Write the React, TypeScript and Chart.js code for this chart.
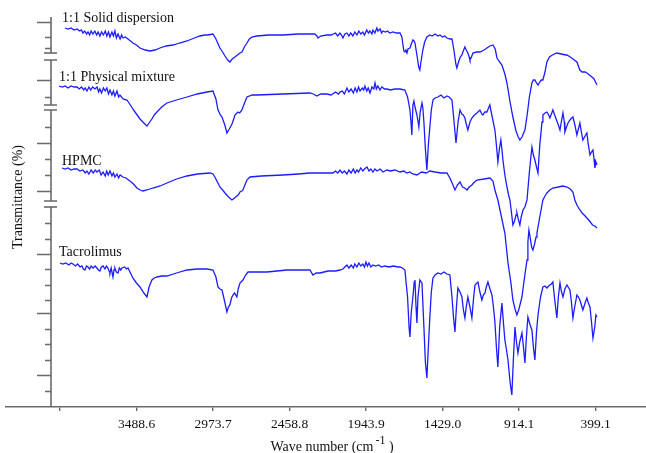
import { useEffect, useRef } from "react";
import { Chart, registerables } from "chart.js";

Chart.register(...registerables);

// Wave number axis (cm-1), plotted high to low
const xTickValues = [4003.5, 3488.6, 2973.7, 2458.8, 1943.9, 1429.0, 914.1, 399.1];
const xTickLabels = ["", "3488.6", "2973.7", "2458.8", "1943.9", "1429.0", "914.1", "399.1"];
const xMin = 60;
const xMax = 4368;
const yAxisAt = 4065;

// Offset transmittance scale shared by the stacked spectra
const yMin = 0;
const yMax = 400;
const yAxisSegments: [number, number][] = [
  [354, 390],
  [302, 347],
  [206, 297],
  [0, 200],
];
const yMajorTicks = [385, 327, 264, 216, 153, 94, 32];
const yMinorTicks = [370, 359, 310, 280, 248, 232, 184, 168, 138, 122, 107, 78, 63, 47, 16];

const seriesNames = ["1:1 Solid dispersion", "1:1 Physical mixture", "HPMC", "Tacrolimus"];
// [wave number, offset transmittance] where each name is written
const nameAnchors: [number, number][] = [
  [3991, 385],
  [4011, 326],
  [3991, 242],
  [4011, 151],
];

const solidDispersion: [number, number][] = [
  [3971, 379], [3950, 378], [3930, 379], [3910, 377], [3890, 378], [3872, 376], [3860, 377], [3850, 374],
  [3838, 376], [3826, 373], [3816, 375], [3805, 372], [3795, 376], [3783, 373], [3770, 376], [3758, 372],
  [3748, 375], [3736, 371], [3725, 375], [3712, 372], [3700, 376], [3689, 371], [3678, 375], [3668, 370],
  [3655, 375], [3645, 371], [3635, 376], [3625, 369], [3614, 373], [3600, 368], [3590, 372], [3581, 369],
  [3565, 370], [3547, 368], [3530, 366], [3514, 364], [3490, 362], [3466, 359], [3430, 357], [3399, 356],
  [3365, 357], [3332, 359], [3290, 361], [3244, 362], [3200, 364], [3150, 366], [3100, 369], [3063, 371],
  [3030, 372], [3009, 372], [2975, 373], [2955, 368], [2940, 363], [2928, 359], [2910, 355], [2894, 351],
  [2875, 347], [2861, 345], [2845, 348], [2827, 350], [2810, 352], [2793, 354], [2780, 355], [2773, 357],
  [2760, 361], [2746, 364], [2730, 368], [2713, 370], [2679, 371], [2600, 372], [2504, 372], [2400, 373],
  [2289, 373], [2275, 371], [2268, 369], [2250, 371], [2208, 372], [2180, 372], [2150, 374], [2135, 371],
  [2120, 374], [2110, 372], [2100, 369], [2087, 373], [2073, 374], [2060, 371], [2048, 374], [2033, 371],
  [2020, 375], [2006, 372], [1993, 376], [1980, 373], [1966, 375], [1955, 372], [1940, 377], [1928, 374],
  [1918, 376], [1905, 373], [1898, 377], [1885, 374], [1872, 379], [1864, 376], [1850, 378], [1840, 374],
  [1831, 376], [1815, 375], [1800, 376], [1785, 374], [1763, 375], [1740, 374], [1716, 374], [1703, 370],
  [1696, 362], [1690, 356], [1683, 355], [1676, 357], [1669, 354], [1662, 358], [1649, 359], [1640, 363],
  [1629, 367], [1622, 366], [1615, 364], [1600, 350], [1590, 340], [1582, 337], [1575, 345], [1562, 357],
  [1550, 365], [1535, 370], [1515, 372], [1500, 371], [1480, 373], [1460, 371], [1447, 372], [1430, 370],
  [1415, 371], [1400, 369], [1380, 368], [1366, 368], [1353, 357], [1340, 343], [1333, 339], [1320, 346],
  [1310, 350], [1299, 352], [1290, 356], [1279, 360], [1270, 357], [1259, 354], [1250, 350], [1245, 347],
  [1235, 350], [1225, 354], [1200, 355], [1178, 355], [1150, 357], [1131, 359], [1110, 361], [1090, 362],
  [1075, 358], [1063, 349], [1050, 346], [1030, 342], [1010, 333], [996, 324], [975, 305], [956, 290],
  [935, 276], [920, 270], [909, 267], [895, 270], [875, 277], [860, 292], [845, 310], [828, 324],
  [818, 327], [808, 327], [797, 324], [787, 322], [775, 325], [765, 327], [754, 327], [740, 335],
  [727, 345], [710, 350], [690, 352], [660, 354], [630, 353], [600, 352], [592, 352], [570, 350],
  [552, 348], [525, 345], [505, 337], [490, 335], [470, 335], [458, 334], [440, 332], [424, 330],
  [410, 328], [400, 325], [390, 322],
];

const physicalMixture: [number, number][] = [
  [4011, 321], [3990, 320], [3970, 321], [3950, 319], [3930, 321], [3910, 320], [3890, 320], [3875, 318],
  [3860, 320], [3845, 317], [3835, 319], [3823, 316], [3810, 320], [3798, 317], [3785, 320], [3769, 318],
  [3755, 320], [3745, 315], [3736, 318], [3725, 314], [3712, 319], [3700, 316], [3689, 319], [3678, 313],
  [3668, 317], [3655, 312], [3645, 316], [3635, 311], [3621, 316], [3610, 310], [3601, 312], [3580, 308],
  [3554, 307], [3535, 303], [3514, 298], [3490, 293], [3466, 288], [3440, 284], [3419, 281], [3405, 284],
  [3386, 288], [3370, 292], [3352, 295], [3320, 300], [3285, 304], [3220, 307], [3150, 310], [3080, 313],
  [3015, 315], [2975, 316], [2955, 308], [2941, 297], [2925, 292], [2914, 290], [2895, 282], [2881, 274],
  [2865, 278], [2847, 283], [2835, 288], [2827, 292], [2807, 295], [2795, 294], [2780, 297], [2765, 303],
  [2746, 310], [2710, 312], [2679, 312], [2504, 313], [2322, 314], [2300, 313], [2275, 311], [2250, 313],
  [2208, 313], [2180, 312], [2150, 315], [2130, 313], [2120, 315], [2105, 316], [2090, 313], [2073, 319],
  [2060, 315], [2045, 318], [2030, 314], [2018, 319], [2006, 315], [1995, 320], [1985, 316], [1970, 319],
  [1960, 317], [1952, 321], [1940, 316], [1930, 319], [1918, 314], [1905, 320], [1892, 318], [1884, 324],
  [1875, 318], [1865, 321], [1851, 317], [1838, 320], [1820, 318], [1804, 318], [1780, 317], [1750, 318],
  [1716, 318], [1683, 317], [1665, 310], [1649, 297], [1642, 285], [1636, 272], [1629, 302], [1622, 306],
  [1615, 300], [1602, 292], [1595, 286], [1589, 280], [1580, 295], [1568, 304], [1562, 299], [1555, 285],
  [1545, 258], [1535, 237], [1525, 262], [1515, 280], [1505, 297], [1494, 307], [1480, 309], [1461, 310],
  [1440, 312], [1420, 309], [1400, 311], [1385, 310], [1366, 307], [1355, 290], [1339, 264], [1325, 285],
  [1312, 297], [1300, 293], [1290, 292], [1279, 289], [1270, 283], [1259, 277], [1245, 285], [1232, 289],
  [1215, 292], [1198, 294], [1178, 297], [1165, 293], [1158, 292], [1145, 295], [1131, 295], [1120, 299],
  [1111, 302], [1095, 290], [1077, 277], [1067, 262], [1057, 245], [1047, 258], [1037, 267], [1030, 258],
  [1023, 247], [1010, 232], [996, 220], [985, 212], [976, 207], [966, 195], [956, 182], [945, 186],
  [935, 192], [929, 194], [920, 188], [909, 182], [900, 190], [888, 197], [875, 200], [861, 207],
  [845, 235], [828, 260], [818, 252], [808, 247], [797, 240], [787, 234], [775, 262], [760, 285],
  [754, 292], [740, 294], [727, 295], [715, 292], [707, 289], [697, 293], [687, 297], [665, 288],
  [650, 282], [639, 277], [630, 285], [619, 294], [610, 285], [606, 275], [595, 280], [585, 284],
  [572, 287], [560, 289], [552, 290], [540, 283], [525, 272], [515, 278], [505, 284], [495, 275],
  [485, 267], [470, 271], [458, 274], [448, 262], [437, 252], [427, 255], [417, 257], [410, 248],
  [404, 239], [397, 245], [390, 242],
];

const hpmc: [number, number][] = [
  [3991, 239], [3970, 238], [3950, 239], [3930, 237], [3910, 238], [3890, 238], [3870, 236], [3850, 237],
  [3835, 234], [3823, 236], [3810, 233], [3795, 237], [3780, 234], [3768, 237], [3756, 235], [3740, 237],
  [3728, 232], [3715, 235], [3700, 231], [3690, 236], [3680, 232], [3668, 236], [3655, 231], [3645, 234],
  [3635, 230], [3621, 233], [3610, 229], [3600, 232], [3581, 230], [3560, 229], [3534, 226], [3510, 223],
  [3487, 219], [3465, 217], [3446, 216], [3420, 217], [3400, 218], [3379, 219], [3330, 221], [3285, 224],
  [3220, 228], [3150, 231], [3080, 233], [2995, 234], [2975, 233], [2962, 230], [2945, 225], [2928, 220],
  [2910, 217], [2894, 214], [2870, 210], [2847, 207], [2830, 209], [2814, 211], [2805, 212], [2793, 215],
  [2780, 216], [2773, 217], [2760, 222], [2746, 227], [2726, 230], [2650, 231], [2504, 232], [2400, 233],
  [2322, 234], [2240, 234], [2167, 234], [2150, 236], [2135, 234], [2120, 237], [2105, 234], [2090, 236],
  [2073, 233], [2060, 237], [2045, 234], [2030, 238], [2018, 234], [2006, 237], [1995, 235], [1980, 239],
  [1966, 236], [1955, 238], [1938, 240], [1925, 236], [1912, 238], [1898, 235], [1885, 238], [1870, 236],
  [1850, 238], [1830, 235], [1804, 237], [1780, 236], [1750, 237], [1716, 235], [1690, 236], [1670, 234],
  [1650, 235], [1630, 233], [1602, 232], [1570, 235], [1540, 234], [1515, 236], [1480, 235], [1440, 234],
  [1400, 234], [1380, 229], [1365, 224], [1346, 217], [1330, 222], [1312, 225], [1295, 220], [1280, 219],
  [1265, 217], [1250, 220], [1232, 222], [1215, 225], [1198, 227], [1150, 228], [1111, 229], [1090, 226],
  [1077, 217], [1067, 212], [1057, 207], [1040, 195], [1023, 183], [1010, 174], [989, 144], [970, 125],
  [956, 107], [940, 97], [929, 92], [915, 98], [895, 110], [880, 127], [861, 147], [855, 165],
  [848, 177], [840, 170], [830, 160], [821, 157], [810, 163], [800, 170], [794, 174], [775, 190],
  [754, 207], [740, 211], [727, 214], [707, 217], [687, 219], [650, 220], [620, 221], [592, 220],
  [570, 218], [552, 215], [539, 207], [525, 202], [505, 197], [490, 194], [470, 191], [458, 189],
  [440, 186], [420, 182], [405, 181], [390, 179],
];

const tacrolimus: [number, number][] = [
  [4005, 144], [3985, 143], [3965, 144], [3945, 142], [3930, 144], [3917, 143], [3900, 141], [3885, 143],
  [3870, 140], [3857, 141], [3847, 138], [3837, 137], [3826, 141], [3816, 140], [3805, 138], [3795, 141],
  [3782, 139], [3768, 141], [3756, 139], [3746, 137], [3736, 136], [3726, 140], [3715, 141], [3702, 138],
  [3692, 141], [3682, 139], [3674, 136], [3668, 134], [3660, 139], [3648, 130], [3641, 137], [3635, 139],
  [3625, 135], [3614, 134], [3605, 139], [3595, 137], [3587, 139], [3570, 140], [3556, 138], [3547, 139],
  [3530, 134], [3514, 129], [3490, 124], [3466, 120], [3440, 114], [3419, 110], [3405, 120], [3386, 127],
  [3370, 129], [3352, 130], [3320, 131], [3285, 131], [3220, 134], [3150, 137], [3080, 138], [3015, 138],
  [2975, 137], [2955, 130], [2941, 120], [2928, 118], [2914, 117], [2900, 108], [2881, 95], [2871, 100],
  [2861, 102], [2850, 109], [2840, 112], [2830, 114], [2814, 110], [2805, 118], [2793, 124], [2773, 127],
  [2755, 132], [2739, 135], [2612, 135], [2477, 137], [2322, 137], [2302, 132], [2280, 134], [2255, 134],
  [2200, 136], [2150, 136], [2120, 137], [2100, 138], [2087, 140], [2073, 142], [2060, 139], [2045, 142],
  [2030, 139], [2020, 143], [2006, 140], [1993, 144], [1980, 141], [1966, 143], [1955, 140], [1945, 145],
  [1935, 141], [1925, 144], [1912, 140], [1898, 142], [1880, 141], [1860, 142], [1840, 140], [1820, 141],
  [1790, 140], [1760, 141], [1730, 140], [1716, 140], [1700, 139], [1683, 137], [1665, 110], [1655, 80],
  [1649, 70], [1640, 95], [1629, 110], [1620, 125], [1615, 127], [1608, 100], [1602, 84], [1595, 110],
  [1582, 127], [1568, 124], [1555, 80], [1545, 45], [1535, 29], [1525, 60], [1515, 90], [1505, 115],
  [1494, 129], [1480, 132], [1461, 134], [1440, 133], [1420, 135], [1400, 133], [1380, 132], [1366, 110],
  [1356, 90], [1346, 75], [1336, 100], [1326, 119], [1312, 115], [1299, 110], [1290, 98], [1279, 89],
  [1270, 100], [1259, 110], [1245, 100], [1232, 89], [1220, 110], [1211, 122], [1191, 125], [1178, 115],
  [1165, 107], [1155, 112], [1144, 114], [1135, 120], [1124, 125], [1110, 118], [1097, 112], [1087, 100],
  [1077, 85], [1067, 60], [1057, 40], [1045, 80], [1030, 104], [1020, 85], [1010, 67], [1000, 58],
  [989, 47], [975, 25], [963, 12], [952, 50], [942, 80], [932, 65], [922, 54], [910, 65],
  [895, 74], [885, 60], [875, 44], [865, 70], [855, 90], [840, 82], [828, 77], [818, 60],
  [808, 47], [797, 75], [787, 92], [770, 110], [754, 120], [740, 121], [727, 119], [715, 121],
  [707, 122], [697, 123], [687, 125], [675, 108], [660, 89], [650, 110], [639, 124], [630, 116],
  [619, 110], [606, 118], [592, 122], [580, 119], [572, 117], [562, 105], [552, 89], [540, 100],
  [525, 112], [515, 110], [505, 107], [495, 102], [485, 97], [470, 104], [458, 109], [448, 104],
  [437, 100], [427, 85], [417, 69], [405, 80], [397, 92], [390, 90],
];

const spectra = [solidDispersion, physicalMixture, hpmc, tacrolimus];

const SERIF = "'Liberation Serif', 'Times New Roman', serif";
const AXIS_GRAY = "#6a6a6a";
const TEXT = "#111111";
const TRACE_BLUE = "#1c1cff";

// Draws the broken left axis, the axis titles and the spectrum names
const decorations = {
  id: "decorations",
  afterDraw(chart: any) {
    const { ctx, chartArea } = chart;
    const xs = chart.scales.x;
    const ys = chart.scales.y;
    const ax = Math.round(xs.getPixelForValue(yAxisAt));
    ctx.save();

    // broken y axis
    ctx.strokeStyle = AXIS_GRAY;
    ctx.lineWidth = 1.6;
    yAxisSegments.forEach(([lo, hi], i) => {
      const yLo = ys.getPixelForValue(lo);
      const yHi = ys.getPixelForValue(hi);
      ctx.beginPath();
      ctx.moveTo(ax, yLo);
      ctx.lineTo(ax, yHi);
      ctx.stroke();
      ctx.beginPath();
      if (i > 0) {
        ctx.moveTo(ax - 7, yHi);
        ctx.lineTo(ax + 6, yHi);
      }
      if (i < yAxisSegments.length - 1) {
        ctx.moveTo(ax - 7, yLo);
        ctx.lineTo(ax + 6, yLo);
      }
      ctx.stroke();
    });
    ctx.beginPath();
    yMajorTicks.forEach((v) => {
      const py = Math.round(ys.getPixelForValue(v)) + 0.5;
      ctx.moveTo(ax - 14, py);
      ctx.lineTo(ax, py);
    });
    yMinorTicks.forEach((v) => {
      const py = Math.round(ys.getPixelForValue(v)) + 0.5;
      ctx.moveTo(ax - 6, py);
      ctx.lineTo(ax, py);
    });
    ctx.stroke();

    // spectrum names
    ctx.fillStyle = TEXT;
    ctx.font = `14px ${SERIF}`;
    ctx.textAlign = "left";
    ctx.textBaseline = "alphabetic";
    seriesNames.forEach((name, i) => {
      const [wn, v] = nameAnchors[i];
      ctx.fillText(name, xs.getPixelForValue(wn), ys.getPixelForValue(v));
    });

    // y title
    ctx.save();
    ctx.translate(18, (chartArea.top + chartArea.bottom) / 2 - 10);
    ctx.rotate(-Math.PI / 2);
    ctx.textAlign = "center";
    ctx.textBaseline = "middle";
    ctx.font = `14px ${SERIF}`;
    ctx.fillText("Transmittance (%)", 0, 0);
    ctx.restore();

    // x title with superscript unit
    const main = "Wave number (cm";
    const sup = "-1";
    const tail = " )";
    ctx.font = `14px ${SERIF}`;
    const wMain = ctx.measureText(main).width;
    const wTail = ctx.measureText(tail).width;
    ctx.font = `12px ${SERIF}`;
    const wSup = ctx.measureText(sup).width;
    const gap = 2;
    const total = wMain + gap + wSup + wTail;
    const cx = 332;
    let tx = cx - total / 2;
    const base = 451;
    ctx.textAlign = "left";
    ctx.font = `14px ${SERIF}`;
    ctx.fillText(main, tx, base);
    tx += wMain + gap;
    ctx.font = `12px ${SERIF}`;
    ctx.fillText(sup, tx, base - 7);
    tx += wSup;
    ctx.font = `14px ${SERIF}`;
    ctx.fillText(tail, tx, base);

    ctx.restore();
  },
};

export default function App() {
  const canvasRef = useRef<HTMLCanvasElement | null>(null);

  useEffect(() => {
    const canvas = canvasRef.current;
    if (!canvas) return;
    const chart = new Chart(canvas, {
      type: "line",
      data: {
        datasets: spectra.map((points, i) => ({
          label: seriesNames[i],
          data: points.map(([wn, v]) => ({ x: wn, y: v })),
          borderColor: TRACE_BLUE,
          borderWidth: 1.3,
          pointRadius: 0,
          fill: false,
          tension: 0,
        })),
      },
      options: {
        animation: false,
        responsive: false,
        devicePixelRatio: 1,
        layout: { padding: { top: 7, right: 0, bottom: 0, left: 0 } },
        plugins: {
          legend: { display: false },
          tooltip: { enabled: false },
        },
        scales: {
          x: {
            type: "linear",
            reverse: true,
            min: xMin,
            max: xMax,
            afterBuildTicks: (scale: any) => {
              scale.ticks = xTickValues.map((value) => ({ value }));
            },
            afterFit: (scale: any) => {
              scale.height = 46;
            },
            ticks: {
              autoSkip: false,
              maxRotation: 0,
              padding: 5,
              color: TEXT,
              font: { family: SERIF, size: 13.5 },
              callback: (_v: any, i: number) => xTickLabels[i],
            },
            grid: {
              drawOnChartArea: false,
              tickLength: 4,
              color: AXIS_GRAY,
              lineWidth: 1.4,
            },
            border: { color: AXIS_GRAY, width: 1.6 },
          },
          y: {
            type: "linear",
            min: yMin,
            max: yMax,
            afterFit: (scale: any) => {
              scale.width = 6;
            },
            ticks: { display: false },
            grid: { display: false },
            border: { display: false },
          },
        },
      },
      plugins: [decorations],
    });
    return () => chart.destroy();
  }, []);

  return (
    <div style={{ position: "fixed", left: 0, top: 0, width: 646, height: 453, background: "#fff" }}>
      <canvas ref={canvasRef} width={646} height={453} style={{ display: "block" }} />
    </div>
  );
}
